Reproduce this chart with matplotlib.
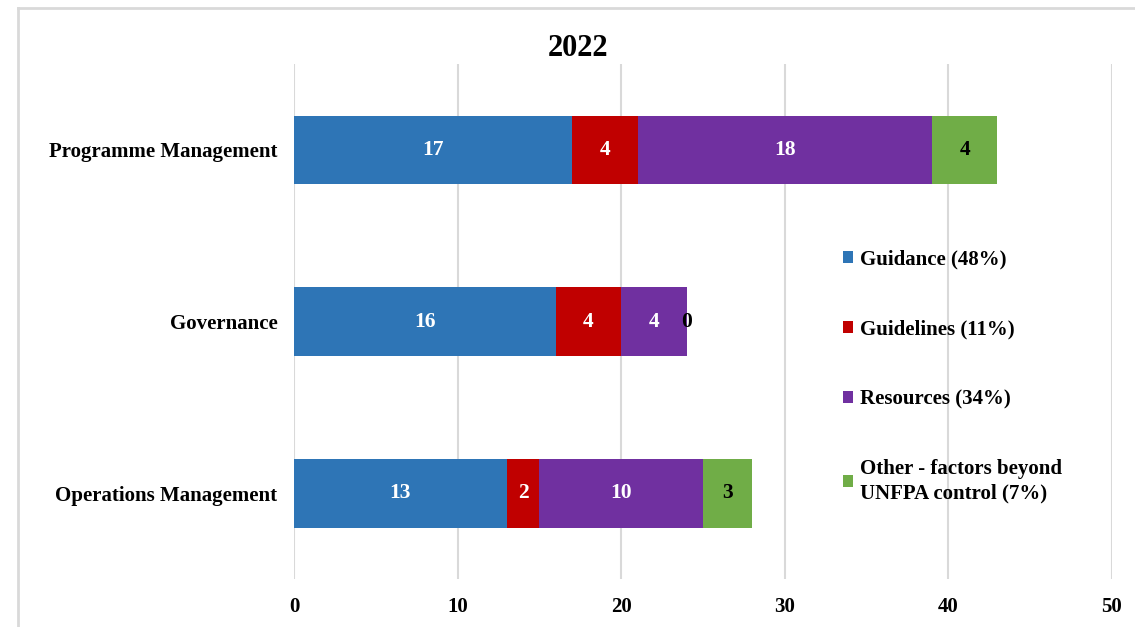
import numpy as np
import matplotlib; matplotlib.use("Agg")
import matplotlib.pyplot as plt

categories = ["Programme Management", "Governance", "Operations Management"]
series = ["Guidance (48%)", "Guidelines (11%)", "Resources (34%)",
          "Other - factors beyond\nUNFPA control (7%)"]
guidance = [17, 16, 13]
guidelines = [4, 4, 2]
resources = [18, 4, 10]
other = [4, 0, 3]
values = [guidance, guidelines, resources, other]
colors = ["#2E75B6", "#C00000", "#7030A0", "#70AD47"]
label_colors = ["white", "white", "white", "black"]

plt.rcParams["font.family"] = ["Liberation Serif", "DejaVu Serif"]
plt.rcParams["font.weight"] = "bold"

fig = plt.figure(figsize=(11.35, 6.27), dpi=100)
ax = fig.add_axes([294 / 1135, 1 - 579 / 627, (1112 - 294) / 1135, (579 - 64) / 627])

y = np.arange(len(categories))
left = np.zeros(len(categories))
for vals, name, c, tc in zip(values, series, colors, label_colors):
    vals = np.array(vals, dtype=float)
    bars = ax.barh(y, vals, left=left, height=0.4, color=c, label=name)
    ax.bar_label(bars, labels=[f"{v:.0f}" for v in vals], label_type="center",
                 color=tc, fontsize=15.5, fontweight="bold")
    left += vals
# the zero-width "Other" label on Governance sits on the bar end in black
for t in ax.texts:
    if t.get_text() == "0":
        t.set_color("black")

ax.set_xlim(0, 50)
ax.set_ylim(2.5, -0.5)
ax.set_xticks(np.arange(0, 51, 10))
ax.set_yticks(y, categories)
ax.tick_params(length=0, labelsize=15)
ax.tick_params(axis="x", pad=13)
ax.tick_params(axis="y", pad=12)
ax.grid(axis="x", color="#D9D9D9", lw=1.5)
ax.set_axisbelow(True)
for s in ax.spines.values():
    s.set_visible(False)

fig.text(578 / 1135, 1 - 49 / 627, "2022", ha="center", va="center", fontsize=22, fontweight="bold")

leg = fig.legend(loc="upper left", bbox_to_anchor=(843 / 1135, 1 - 249 / 627), frameon=False,
                 fontsize=15, handlelength=0.5, handleheight=0.5, handletextpad=0.3,
                 labelspacing=2.4, borderpad=0, borderaxespad=0)
leg.get_texts()[-1].set_linespacing(1.3)

# light frame around the chart area
fig.add_artist(plt.Line2D([18 / 1135, 1], [1 - 8 / 627] * 2, color="#D9D9D9", lw=2, transform=fig.transFigure))
fig.add_artist(plt.Line2D([18 / 1135] * 2, [0, 1 - 8 / 627], color="#D9D9D9", lw=2, transform=fig.transFigure))

fig.savefig("out.png", dpi=100)
